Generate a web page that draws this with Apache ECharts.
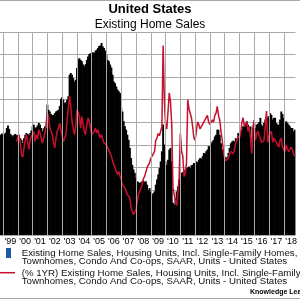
<!DOCTYPE html>
<html><head><meta charset="utf-8">
<script src="https://cdn.jsdelivr.net/npm/echarts@6/dist/echarts.min.js"></script>
<style>html,body{margin:0;padding:0;background:#fff}#c{width:300px;height:300px}</style>
</head><body><div id="c"></div>
<script>
// Monthly categories, Nov 1998 .. Oct 2018
const startYear = 1998, startMonth = 11, monthCount = 240;
const months = [];
for (let i = 0; i < monthCount; i++) {
  const m0 = startMonth - 1 + i;
  const y = startYear + Math.floor(m0 / 12);
  const m = m0 % 12 + 1;
  months.push(y + '-' + (m < 10 ? '0' : '') + m);
}
const yearLabels = ["'99","'00","'01","'02","'03","'04","'05","'06","'07","'08","'09","'10","'11","'12","'13","'14","'15","'16","'17","'18"];
// January of each year: vertical year gridlines
const yearStarts = months.filter(function (c) { return c.slice(5) === '01'; });

// Existing home sales, SAAR, millions of units
const salesMillions = [
  5.07, 5.10,
  5.07, 5.09, 5.12, 5.23, 5.29, 5.21, 5.09, 5.06, 5.03, 5.07, 5.09, 5.06,
  5.06, 5.01, 4.99, 4.95, 4.87, 4.99, 5.07, 5.11, 5.09, 5.06, 5.11, 5.17,
  5.27, 5.31, 5.23, 5.25, 5.29, 5.35, 5.31, 5.23, 5.15, 5.22, 5.27, 5.23,
  5.78, 5.66, 5.62, 5.56, 5.53, 5.54, 5.58, 5.62, 5.64, 5.66, 5.75, 5.92,
  5.96, 5.90, 5.82, 5.84, 5.90, 5.98, 6.49, 6.53, 6.49, 6.41, 6.33, 6.37,
  6.65, 6.85, 6.88, 6.84, 6.81, 6.73, 6.69, 6.74, 6.84, 6.92, 6.98, 7.00,
  6.98, 7.02, 7.00, 7.06, 7.08, 7.12, 7.17, 7.18, 7.24, 7.16, 7.12, 7.06,
  6.96, 6.84, 6.81, 6.73, 6.66, 6.49, 6.33, 6.29, 6.21, 6.14, 6.10, 6.06,
  5.70, 5.62, 5.39, 5.27, 5.19, 5.07, 4.95, 4.76, 4.52, 4.36, 4.25, 4.17,
  4.05, 3.97, 3.95, 3.93, 3.95, 3.97, 3.99, 3.95, 3.97, 3.89, 3.77, 3.81,
  3.73, 3.65, 3.69, 3.73, 3.89, 4.01, 4.13, 4.28, 4.44, 4.68, 5.31, 4.84,
  4.44, 4.36, 4.48, 4.72, 4.76, 4.44, 3.46, 3.42, 3.57, 3.73, 3.85, 4.01,
  4.09, 4.17, 4.19, 4.21, 4.25, 4.28, 4.30, 4.32, 4.28, 4.35, 4.36, 4.40,
  4.40, 4.44, 4.42, 4.48, 4.52, 4.50, 4.56, 4.64, 4.62, 4.68, 4.72, 4.80,
  4.80, 4.87, 4.91, 4.95, 5.03, 5.07, 5.19, 5.19, 5.07, 4.87, 4.72, 4.64,
  4.56, 4.52, 4.54, 4.64, 4.76, 4.87, 4.91, 4.93, 4.91, 4.99, 4.95, 5.11,
  5.07, 5.09, 5.19, 5.27, 5.27, 5.35, 5.39, 5.31, 5.23, 5.27, 4.87, 5.23,
  5.35, 5.23, 5.31, 5.33, 5.37, 5.47, 5.31, 5.27, 5.35, 5.43, 5.51, 5.47,
  5.51, 5.58, 5.54, 5.43, 5.47, 5.47, 5.35, 5.31, 5.31, 5.43, 5.62, 5.56,
  5.47, 5.35, 5.39, 5.35, 5.31, 5.27, 5.23, 5.23, 5.15, 5.19
];

// Year-over-year change, percent
const yoyPercent = [
  null, null,
  null, null, null, null, null, null, null, null, null, null, null, 1.5,
  3.5, 4.5, 0.5, -4.5, -5.5, -1.5, 2.0, 4.5, 1.0, -2.0, 2.5, 3.5,
  3.0, 5.9, 1.5, 4.5, 2.5, 6.7, 5.2, 3.0, 0.8, 3.0, 5.2, 4.5,
  14.1, 11.9, 7.4, 6.0, 4.5, 0.8, -1.4, 3.0, 6.0, 7.4, 9.6, 10.4,
  3.8, 1.5, 0.8, 4.5, 10.4, 16.3, 21.5, 17.0, 10.4, 7.4, 4.5, 8.1,
  15.6, 16.3, 12.6, 7.4, 12.6, 11.9, 5.9, 4.5, 8.9, 11.9, 10.4, 7.4,
  4.5, 3.7, 5.9, 7.4, 5.2, 6.7, 4.5, 3.0, 4.5, 2.3, 0.8, 1.5,
  0.0, -1.4, -0.7, -3.7, -5.1, -7.3, -8.8, -10.3, -11.8, -13.3, -11.8, -14.0,
  -15.5, -17.7, -17.0, -19.2, -20.6, -22.1, -22.9, -23.6, -28.0, -29.5, -31.0, -31.7,
  -28.8, -25.1, -22.1, -20.6, -19.2, -17.7, -15.0, -14.0, -12.0, -10.0, -10.0, -8.0,
  -6.0, -5.0, -4.0, -3.0, 2.0, 3.0, 5.0, 4.0, 6.0, 8.0, 44.0, 20.0,
  9.0, 7.0, 15.0, 23.0, 19.0, 9.0, -19.0, -22.0, -25.0, -27.0, -27.0, -15.0,
  5.0, -3.0, -5.0, -14.0, -13.0, -8.0, 20.0, 16.0, 14.0, 12.0, 8.0, 3.0,
  2.0, 6.0, 10.0, 9.0, 7.0, 8.0, 9.0, 10.0, 11.0, 11.0, 13.0, 10.0,
  9.0, 10.0, 11.0, 10.0, 13.0, 14.0, 17.0, 13.0, 11.0, 6.0, 2.0, -3.0,
  -6.0, -7.0, -7.0, -6.0, -4.0, -3.0, -3.0, -4.0, -2.0, 1.0, 2.0, 4.0,
  3.0, 5.0, 10.0, 12.0, 8.0, 9.0, 10.0, 6.0, 8.0, 3.0, -4.0, 8.0,
  11.0, 2.0, 5.0, 6.0, 4.0, 3.0, 1.0, 1.0, 2.0, 2.0, 15.0, 1.0,
  4.0, 5.0, 6.0, 1.0, 3.0, 2.0, 1.0, 0.0, -1.0, 2.0, 3.0, -1.0,
  -2.0, -3.0, 0.0, -2.0, -3.0, -2.0, -1.0, -2.0, -4.0, -5.0
];

const seriesNames = [
  'Existing Home Sales, Housing Units, Incl. Single-Family Homes, Townhomes, Condo And Co-ops, SAAR, Units - United States',
  '(% 1YR) Existing Home Sales, Housing Units, Incl. Single-Family Homes, Townhomes, Condo And Co-ops, SAAR, Units - United States'
];
const legendLines = [
  'Existing Home Sales, Housing Units, Incl. Single-Family Homes,',
  'Townhomes, Condo And Co-ops, SAAR, Units - United States',
  '(% 1YR) Existing Home Sales, Housing Units, Incl. Single-Family Homes,',
  'Townhomes, Condo And Co-ops, SAAR, Units - United States'
];

const FONT = '"Liberation Sans", Arial, Helvetica, sans-serif';
const GRID_COLOR = '#a9a9a9';
const chart = echarts.init(document.getElementById('c'), null, {renderer: 'canvas'});

function monthOf(idx) { if (idx == null || idx < 0 || idx >= months.length) return -1; return parseInt(months[idx].slice(5), 10); }
function yearOf(idx) { if (idx == null || idx < 0 || idx >= months.length) return -1; return parseInt(months[idx].slice(0, 4), 10); }

chart.setOption({
  animation: false,
  backgroundColor: '#fff',
  title: [
    {text: 'United States', left: 'center', top: 3, padding: 0,
     textStyle: {fontFamily: FONT, fontSize: 13, fontWeight: 'bold', color: '#000'}},
    {text: 'Existing Home Sales', left: 'center', top: 18.5, padding: 0,
     textStyle: {fontFamily: FONT, fontSize: 12, fontWeight: 'normal', color: '#000'}}
  ],
  grid: {left: 0, right: 0, top: 32, bottom: 65, show: false},
  xAxis: {
    type: 'category', data: months, boundaryGap: true,
    axisLine: {show: false}, axisTick: {show: false},
    splitLine: {show: false},
    axisLabel: {
      interval: function (idx) { return monthOf(idx) === 7; },
      formatter: function (val, idx) { const y = yearOf(idx); return (y < 1999 || y > 2018) ? '' : yearLabels[y - 1999]; },
      fontFamily: FONT, fontSize: 9, color: '#000', margin: 2
    }
  },
  yAxis: [
    {type: 'value', min: 2.7, max: 7.5, show: true, axisLine: {show: false}, axisTick: {show: false}, axisLabel: {show: false}, splitLine: {show: false}},
    {type: 'value', min: -40, max: 50, interval: 10, position: 'right', show: true, axisLine: {show: false}, axisTick: {show: false}, axisLabel: {show: false},
     splitLine: {show: true, lineStyle: {color: GRID_COLOR, width: 1, type: 'solid'}}}
  ],
  series: [
    {name: 'year gridlines', type: 'line', yAxisIndex: 1, data: [], z: 1, silent: true,
     markLine: {silent: true, symbol: 'none', label: {show: false}, animation: false,
                lineStyle: {color: GRID_COLOR, width: 1, type: 'solid'},
                data: yearStarts.map(function (c) { return {xAxis: c}; })}},
    {name: seriesNames[0], type: 'bar', yAxisIndex: 0, data: salesMillions, barWidth: 1.9, clip: true, itemStyle: {color: '#000'}, z: 2},
    {name: seriesNames[1], type: 'line', yAxisIndex: 1, data: yoyPercent, showSymbol: false, symbol: 'none', connectNulls: false,
     lineStyle: {color: '#c8102e', width: 1.5}, itemStyle: {color: '#c8102e'}, z: 3}
  ],
  graphic: [
    {type: 'line', shape: {x1: 0, y1: 0.5, x2: 300, y2: 0.5}, style: {stroke: '#a8a8a8', lineWidth: 1}},
    {type: 'line', shape: {x1: 0, y1: 298.5, x2: 300, y2: 298.5}, style: {stroke: '#a8a8a8', lineWidth: 1}},
    {type: 'rect', shape: {x: 6, y: 248, width: 5, height: 10}, style: {fill: '#1c5ba3'}},
    {type: 'text', x: 21.7, y: 253.5, style: {text: legendLines[0], font: '9.7px ' + FONT, fill: '#111', verticalAlign: 'middle'}},
    {type: 'text', x: 21.7, y: 261.7, style: {text: legendLines[1], font: '9.7px ' + FONT, fill: '#111', verticalAlign: 'middle'}},
    {type: 'line', shape: {x1: 0, y1: 272.7, x2: 15, y2: 272.7}, style: {stroke: '#c8102e', lineWidth: 1.5}},
    {type: 'text', x: 21.7, y: 273, style: {text: legendLines[2], font: '9.7px ' + FONT, fill: '#111', verticalAlign: 'middle'}},
    {type: 'text', x: 21.7, y: 281.2, style: {text: legendLines[3], font: '9.7px ' + FONT, fill: '#111', verticalAlign: 'middle'}},
    {type: 'text', x: 250, y: 292, style: {text: 'Knowledge Leaders Capital', font: 'bold 7px ' + FONT, fill: '#000', verticalAlign: 'middle'}}
  ]
});
</script>
</body></html>
